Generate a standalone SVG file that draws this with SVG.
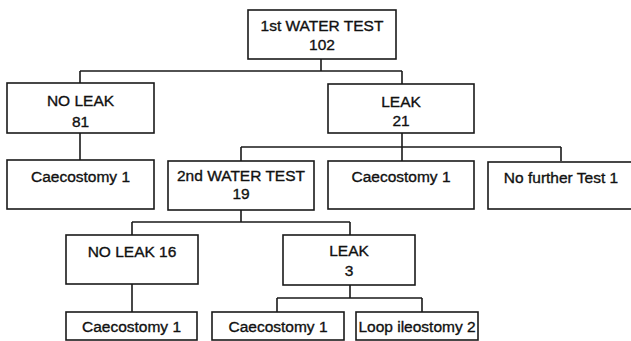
<svg xmlns="http://www.w3.org/2000/svg" width="631" height="341" viewBox="0 0 631 341">
<style>
rect{fill:#fff;stroke:#1a1a1a;stroke-width:1.6}
text{font-family:"Liberation Sans",Arial,sans-serif;font-size:15.5px;fill:#111;stroke:#111;stroke-width:0.35;text-anchor:middle}
.c path{fill:none;stroke:#1a1a1a;stroke-width:1.6}
</style>
<rect x="0" y="0" width="631" height="341" style="fill:#fff;stroke:none"/>
<g class="c" id="connectors">
<path d="M321,59V71M80,71H402M80,71V83M402,71V84"/>
<path d="M80,133V160"/>
<path d="M402,133V147M241,147H561M241,147V161M402,147V161M561,147V161"/>
<path d="M241,210V222M132,222H350M132,222V235M350,222V235"/>
<path d="M132,284V312"/>
<path d="M350,285V298M277,298H422M277,298V312M422,298V312"/>
</g>
<g id="n1"><rect x="248" y="10" width="148" height="49"/><text x="322" y="30.5">1st WATER TEST</text><text x="322" y="49.5">102</text></g>
<g id="n2"><rect x="7" y="83" width="147" height="50"/><text x="80.5" y="105.5">NO LEAK</text><text x="80.5" y="126.5">81</text></g>
<g id="n3"><rect x="328" y="84" width="146" height="49"/><text x="401" y="106.5">LEAK</text><text x="401" y="125.5">21</text></g>
<g id="n4"><rect x="7" y="160" width="147" height="49"/><text x="80.5" y="182">Caecostomy 1</text></g>
<g id="n5"><rect x="168" y="161" width="146" height="49"/><text x="241" y="181">2nd WATER TEST</text><text x="241" y="198.5">19</text></g>
<g id="n6"><rect x="328" y="161" width="146" height="48"/><text x="401" y="182">Caecostomy 1</text></g>
<g id="n7"><rect x="488" y="162" width="150" height="47"/><text x="561" y="183">No further Test 1</text></g>
<g id="n8"><rect x="66" y="235" width="132" height="49"/><text x="132" y="256.5">NO LEAK 16</text></g>
<g id="n9"><rect x="283" y="235" width="132" height="50"/><text x="349" y="255.5">LEAK</text><text x="349" y="275.5">3</text></g>
<g id="n10"><rect x="66" y="312" width="131" height="28"/><text x="131.5" y="331.5">Caecostomy 1</text></g>
<g id="n11"><rect x="212" y="312" width="132" height="28"/><text x="278" y="331.5">Caecostomy 1</text></g>
<g id="n12"><rect x="356" y="312" width="122" height="28"/><text x="417" y="331.5">Loop ileostomy 2</text></g>
</svg>
